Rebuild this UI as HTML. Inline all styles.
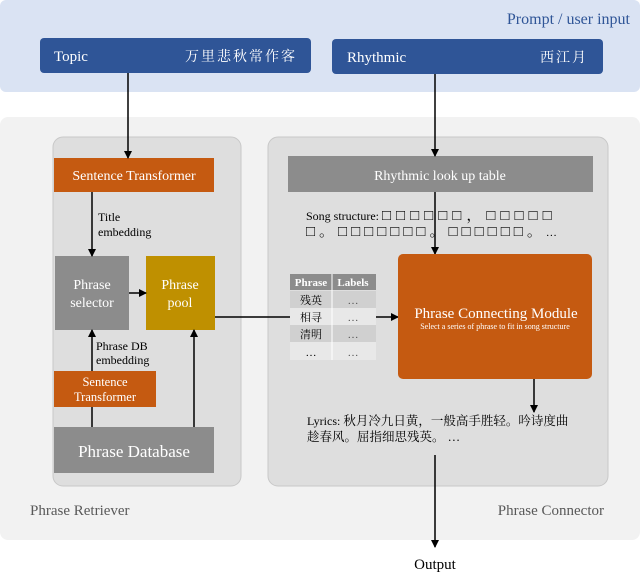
<!DOCTYPE html>
<html><head><meta charset="utf-8"><style>
body{margin:0;background:#fff}
text{font-family:"Liberation Serif","Noto Serif CJK SC",serif}
.cjk{font-family:"Liberation Serif","Noto Serif CJK SC",serif}
</style></head><body>
<svg width="640" height="574" viewBox="0 0 640 574" xmlns="http://www.w3.org/2000/svg">
<defs><marker id="a" markerWidth="8" markerHeight="8" refX="7" refY="4" orient="auto" markerUnits="userSpaceOnUse"><path d="M0,0 L8,4 L0,8 z" fill="#000"/></marker></defs>
<rect x="0" y="0" width="640" height="92" rx="6" fill="#dae3f3"/>
<text x="630" y="24" font-size="16" fill="#2f5597" text-anchor="end">Prompt / user input</text>
<rect x="40" y="38" width="271" height="35" rx="4" fill="#2f5597"/>
<text x="54" y="61" font-size="15" fill="#fff">Topic</text>
<text x="297" y="61" font-size="14" fill="#fff" text-anchor="end" class="cjk" letter-spacing="2">万里悲秋常作客</text>
<rect x="332" y="39" width="271" height="35" rx="4" fill="#2f5597"/>
<text x="347" y="62" font-size="15" fill="#fff">Rhythmic</text>
<text x="588" y="62" font-size="14" fill="#fff" text-anchor="end" class="cjk" letter-spacing="2">西江月</text>
<rect x="0" y="117" width="640" height="423" rx="8" fill="#f2f2f2"/>
<rect x="53" y="137" width="188" height="349" rx="10" fill="#dedede" stroke="#c8c8c8"/>
<rect x="268" y="137" width="340" height="349" rx="10" fill="#dedede" stroke="#c8c8c8"/>
<text x="30" y="515" font-size="15" fill="#595959">Phrase Retriever</text>
<text x="604" y="515" font-size="15" fill="#595959" text-anchor="end">Phrase Connector</text>
<rect x="54" y="158" width="160" height="34" fill="#c55a11"/>
<text x="134" y="180" font-size="14" fill="#fff" text-anchor="middle">Sentence Transformer</text>
<text x="98" y="221" font-size="12">Title</text>
<text x="98" y="236" font-size="12">embedding</text>
<rect x="55" y="256" width="74" height="74" fill="#8c8c8c"/>
<text x="92" y="289" font-size="14" fill="#fff" text-anchor="middle">Phrase</text>
<text x="92" y="307" font-size="14" fill="#fff" text-anchor="middle">selector</text>
<rect x="146" y="256" width="69" height="74" fill="#bf9000"/>
<text x="180" y="289" font-size="14" fill="#fff" text-anchor="middle">Phrase</text>
<text x="180" y="307" font-size="14" fill="#fff" text-anchor="middle">pool</text>
<text x="96" y="350" font-size="12">Phrase DB</text>
<text x="96" y="364" font-size="12">embedding</text>
<rect x="54" y="371" width="102" height="36" fill="#c55a11"/>
<text x="105" y="386" font-size="12.5" fill="#fff" text-anchor="middle">Sentence</text>
<text x="105" y="401" font-size="12.5" fill="#fff" text-anchor="middle">Transformer</text>
<rect x="54" y="427" width="160" height="46" fill="#8c8c8c"/>
<text x="134" y="457" font-size="17" fill="#fff" text-anchor="middle">Phrase Database</text>
<line x1="128" y1="73" x2="128" y2="158" stroke="#000" stroke-width="1.5" marker-end="url(#a)"/>
<line x1="92" y1="192" x2="92" y2="256" stroke="#000" stroke-width="1.5" marker-end="url(#a)"/>
<line x1="129" y1="293" x2="146" y2="293" stroke="#000" stroke-width="1.5" marker-end="url(#a)"/>
<line x1="92" y1="371" x2="92" y2="330" stroke="#000" stroke-width="1.5" marker-end="url(#a)"/>
<line x1="92" y1="427" x2="92" y2="407" stroke="#000" stroke-width="1.5"/>
<line x1="194" y1="427" x2="194" y2="330" stroke="#000" stroke-width="1.5" marker-end="url(#a)"/>
<line x1="215" y1="317" x2="398" y2="317" stroke="#000" stroke-width="1.5" marker-end="url(#a)"/>
<rect x="288" y="156" width="305" height="36" fill="#8c8c8c"/>
<text x="440" y="180" font-size="14" fill="#fff" text-anchor="middle">Rhythmic look up table</text>
<line x1="435" y1="74" x2="435" y2="156" stroke="#000" stroke-width="1.5" marker-end="url(#a)"/>
<line x1="435" y1="192" x2="435" y2="254" stroke="#000" stroke-width="1.5" marker-end="url(#a)"/>
<text x="306" y="220" font-size="12">Song structure: <tspan font-size="15" letter-spacing="5">□□□□□□，□□□□□</tspan></text>
<text x="306" y="236" font-size="15" letter-spacing="4">□。□□□□□□□。□□□□□□。<tspan font-size="11" letter-spacing="0">…</tspan></text>
<rect x="290" y="274" width="86" height="16" fill="#8c8c8c"/>
<text x="311" y="286" font-size="11" fill="#fff" text-anchor="middle" font-weight="bold">Phrase</text>
<text x="353" y="286" font-size="11" fill="#fff" text-anchor="middle" font-weight="bold">Labels</text>
<rect x="290" y="291" width="86" height="17" fill="#d0d0d0"/>
<rect x="290" y="308" width="86" height="17" fill="#e8e8e8"/>
<rect x="290" y="325" width="86" height="17" fill="#d0d0d0"/>
<rect x="290" y="342" width="86" height="18" fill="#e8e8e8"/>
<line x1="332" y1="274" x2="332" y2="360" stroke="#fff"/>
<text x="311" y="304" font-size="11" text-anchor="middle">残英</text>
<text x="311" y="321" font-size="11" text-anchor="middle">相寻</text>
<text x="311" y="338" font-size="11" text-anchor="middle">清明</text>
<text x="311" y="356" font-size="11" text-anchor="middle">…</text>
<text x="353" y="304" font-size="11" text-anchor="middle" fill="#555">…</text>
<text x="353" y="321" font-size="11" text-anchor="middle" fill="#555">…</text>
<text x="353" y="338" font-size="11" text-anchor="middle" fill="#555">…</text>
<text x="353" y="356" font-size="11" text-anchor="middle" fill="#555">…</text>
<rect x="398" y="254" width="194" height="125" rx="5" fill="#c55a11"/>
<text x="496" y="318" font-size="15" fill="#fff" text-anchor="middle">Phrase Connecting Module</text>
<text x="495" y="329" font-size="8" fill="#fff" text-anchor="middle">Select a series of phrase to fit in song structure</text>
<line x1="534" y1="379" x2="534" y2="412" stroke="#000" stroke-width="1.5" marker-end="url(#a)"/>
<text x="307" y="425" font-size="12">Lyrics: <tspan font-size="12.5">秋月冷九日黄，一般高手胜轻。吟诗度曲</tspan></text>
<text x="307" y="441" font-size="12.5">趁春风。屈指细思残英。 …</text>
<line x1="435" y1="455" x2="435" y2="547" stroke="#000" stroke-width="1.5" marker-end="url(#a)"/>
<text x="435" y="569" font-size="15" text-anchor="middle">Output</text>
</svg>
</body></html>
